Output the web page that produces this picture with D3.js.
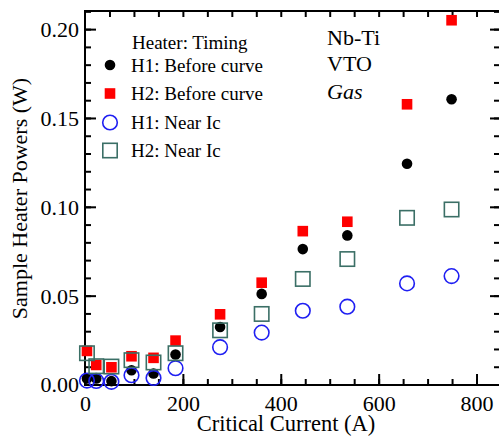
<!DOCTYPE html>
<html>
<head>
<meta charset="utf-8">
<script src="https://d3js.org/d3.v7.min.js"></script>
<style>
  body { margin: 0; background: #fff; }
  svg text { font-family: "Liberation Serif", "Times New Roman", serif; fill: #000; }
  .axis path { display: none; }
  .axis line { stroke: #000; stroke-width: 2; }
</style>
</head>
<body>
<svg width="499" height="436"></svg>
<script>
// critical current groups (A)
var current = [4, 23, 54, 95, 140, 185, 276, 361, 445, 536, 658, 749];
// heater powers (W)
var h1Before = [0.0034, 0.0034, 0.0019, 0.0080, 0.0062, 0.0169, 0.0324, 0.0510, 0.0762, 0.0839, 0.1242, 0.1605];
var h2Before = [0.0189, 0.0110, 0.0097, 0.0159, 0.0150, 0.0247, 0.0395, 0.0573, 0.0863, 0.0916, 0.1577, 0.2050];
var h1Near = [0.0022, 0.0020, 0.0015, 0.0052, 0.0037, 0.0092, 0.0210, 0.0292, 0.0415, 0.0438, 0.0569, 0.0610];
var h2Near = [0.0176, 0.0103, 0.0101, 0.0137, 0.0124, 0.0176, 0.0305, 0.0397, 0.0594, 0.0706, 0.0938, 0.0985];
var seriesNames = ['H1: Before curve', 'H2: Before curve', 'H1: Near Ic', 'H2: Near Ic'];
var xTicks = [0, 200, 400, 600, 800];
var yTicks = [0, 0.05, 0.10, 0.15, 0.20];

var mLeft = 85, mRight = 501, mTop = 11, mBottom = 385;
var svg = d3.select('svg');

var x = d3.scaleLinear().domain([0, 850]).range([mLeft, mRight]);
var y = d3.scaleLinear().domain([0, 0.2102]).range([384.5, mTop]);

var xMinor = d3.range(0, 851, 50);
var yMinor = d3.range(0, 0.2101, 0.01);

// frame
svg.append('rect')
    .attr('x', mLeft).attr('y', mTop)
    .attr('width', mRight - mLeft).attr('height', mBottom - mTop)
    .style('fill', 'none').style('stroke', '#000').style('stroke-width', 2);

// bottom axis
svg.append('g').attr('class', 'axis')
    .attr('transform', 'translate(0,' + mBottom + ')')
    .call(d3.axisBottom(x).tickValues(xMinor).tickSize(-6).tickFormat(''));
var xa = svg.append('g').attr('class', 'axis')
    .attr('transform', 'translate(0,' + mBottom + ')')
    .call(d3.axisBottom(x).tickValues(xTicks).tickSize(-11).tickPadding(0).tickFormat(d3.format('d')));
xa.selectAll('text').attr('y', 26).attr('dy', 0).style('font-size', '22px');

// top axis
svg.append('g').attr('class', 'axis')
    .attr('transform', 'translate(0,' + mTop + ')')
    .call(d3.axisTop(x).tickValues(xMinor.filter(d => d > 0 && d < 850)).tickSize(-6).tickFormat(''));

// left axis
svg.append('g').attr('class', 'axis')
    .attr('transform', 'translate(' + mLeft + ',0)')
    .call(d3.axisLeft(y).tickValues(yMinor).tickSize(-6).tickFormat(''));
var ya = svg.append('g').attr('class', 'axis')
    .attr('transform', 'translate(' + mLeft + ',0)')
    .call(d3.axisLeft(y).tickValues(yTicks).tickSize(-11).tickFormat(d3.format('.2f')));
ya.selectAll('text').attr('x', -6).attr('dy', '0.34em').style('font-size', '22px');

// right axis
svg.append('g').attr('class', 'axis')
    .attr('transform', 'translate(' + mRight + ',0)')
    .call(d3.axisRight(y).tickValues(yMinor).tickSize(-7).tickFormat(''));
svg.append('g').attr('class', 'axis')
    .attr('transform', 'translate(' + mRight + ',0)')
    .call(d3.axisRight(y).tickValues(yTicks).tickSize(-11).tickFormat(''));

// axis titles
svg.append('text')
    .attr('x', 286).attr('y', 431)
    .attr('text-anchor', 'middle')
    .style('font-size', '22.5px')
    .text('Critical Current (A)');
svg.append('text')
    .attr('transform', 'translate(27,198.5) rotate(-90)')
    .attr('text-anchor', 'middle')
    .style('font-size', '22px')
    .text('Sample Heater Powers (W)');

// markers
function drawMarker(g, kind) {
    if (kind == 0) {
        g.append('circle').attr('r', 5.3).style('fill', '#000');
    } else if (kind == 1) {
        g.append('rect').attr('x', -5.3).attr('y', -5.3).attr('width', 10.6).attr('height', 10.6).style('fill', '#ff0000');
    } else if (kind == 2) {
        g.append('circle').attr('r', 7.3).style('fill', 'none').style('stroke', '#1f1ff2').style('stroke-width', 1.6);
    } else {
        g.append('rect').attr('x', -7.2).attr('y', -7.2).attr('width', 14.4).attr('height', 14.4)
            .style('fill', 'none').style('stroke', '#3b6f66').style('stroke-width', 1.6);
    }
}

var allSeries = [h1Before, h2Before, h1Near, h2Near];
allSeries.forEach((vals, k) => {
    svg.append('g').selectAll('g')
        .data(vals)
        .enter()
        .append('g')
        .attr('transform', (d, i) => 'translate(' + x(current[i]) + ',' + y(d) + ')')
        .each(function () { drawMarker(d3.select(this), k); });
});

// legend
svg.append('text').attr('x', 132).attr('y', 48.5).style('font-size', '19px').text('Heater: Timing');
var legY = [65, 93.5, 122.5, 150.5];
seriesNames.forEach((name, k) => {
    var g = svg.append('g').attr('transform', 'translate(110,' + legY[k] + ')');
    drawMarker(g, k);
    svg.append('text').attr('x', 131).attr('y', legY[k] + 6.5).style('font-size', '19px').text(name);
});

// sample notes
svg.append('text').attr('x', 327).attr('y', 45).style('font-size', '22px').text('Nb-Ti');
svg.append('text').attr('x', 327).attr('y', 71).style('font-size', '22px').text('VTO');
svg.append('text').attr('x', 327).attr('y', 99).style('font-size', '22px').style('font-style', 'italic').text('Gas');
</script>
</body>
</html>
